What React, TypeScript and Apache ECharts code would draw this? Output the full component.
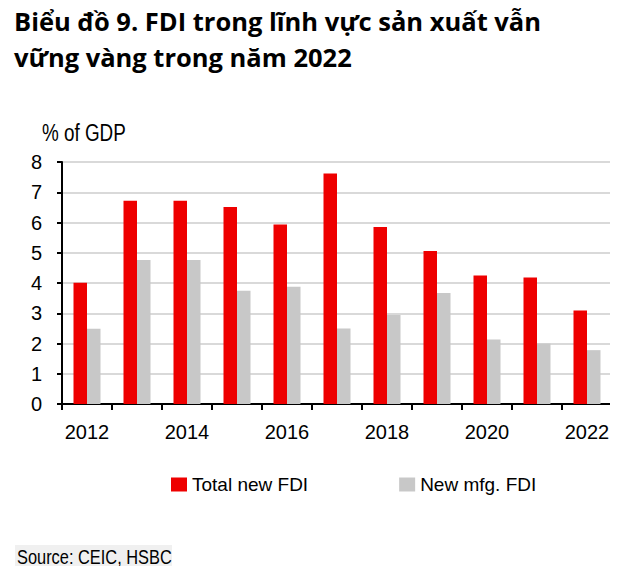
import React, { useEffect, useRef } from "react";
import * as echarts from "echarts";

const years = ["2012", "2013", "2014", "2015", "2016", "2017", "2018", "2019", "2020", "2021", "2022"];
const totalNewFDI = [4.01, 6.72, 6.72, 6.51, 5.93, 7.62, 5.85, 5.06, 4.25, 4.18, 3.09];
const newMfgFDI = [2.49, 4.76, 4.76, 3.74, 3.88, 2.5, 2.94, 3.67, 2.13, 2.0, 1.78];
const yTicks = [0, 1, 2, 3, 4, 5, 6, 7, 8];

const SANS = '"Liberation Sans", Arial, sans-serif';

export default function App() {
  const ref = useRef<HTMLDivElement>(null);
  useEffect(() => {
    if (!ref.current) return;
    const chart = echarts.init(ref.current, undefined, { renderer: "svg" });
    chart.setOption({
      animation: false,
      backgroundColor: "#ffffff",
      graphic: [
        {
          type: "text",
          x: 14,
          y: 3,
          style: {
            text: "Biểu đồ 9. FDI trong lĩnh vực sản xuất vẫn\nvững vàng trong năm 2022",
            font: 'bold 25.5px "Open Sans", sans-serif',
            lineHeight: 36,
            fill: "#000000",
          },
        },
        {
          type: "text",
          x: 42,
          y: 121,
          scaleX: 0.82,
          style: { text: "% of GDP", font: `23px ${SANS}`, fill: "#000000" },
        },
        {
          type: "rect",
          shape: { x: 15, y: 545, width: 157, height: 24 },
          style: { fill: "#f0f0f0" },
        },
        {
          type: "text",
          x: 17,
          y: 547,
          scaleX: 0.82,
          style: { text: "Source: CEIC, HSBC", font: `20px ${SANS}`, fill: "#000000" },
        },
      ],
      legend: {
        left: 166,
        top: 470,
        itemWidth: 16,
        itemHeight: 14,
        itemGap: 91,
        icon: "rect",
        textStyle: { fontFamily: SANS, fontSize: 19, color: "#000000" },
        data: ["Total new FDI", "New mfg. FDI"],
      },
      grid: { left: 62, right: 6, top: 162, bottom: 170, containLabel: false },
      xAxis: {
        type: "category",
        data: years,
        boundaryGap: true,
        axisLine: { lineStyle: { color: "#000000", width: 2 } },
        axisTick: { show: true, length: 6, lineStyle: { color: "#000000", width: 2 }, interval: 0 },
        axisLabel: {
          interval: 1,
          fontFamily: SANS,
          fontSize: 20,
          color: "#000000",
          margin: 18,
        },
        splitLine: { show: false },
      },
      yAxis: {
        type: "value",
        min: yTicks[0],
        max: yTicks[yTicks.length - 1],
        interval: 1,
        axisLine: { show: true, lineStyle: { color: "#000000", width: 2 } },
        axisTick: { show: true, length: 5, lineStyle: { color: "#000000", width: 2 } },
        axisLabel: { fontFamily: SANS, fontSize: 20, color: "#000000", margin: 20 },
        splitLine: { show: true, lineStyle: { color: "#d9d9d9", width: 2 } },
      },
      series: [
        {
          name: "Total new FDI",
          type: "bar",
          data: totalNewFDI,
          barWidth: 13.5,
          barGap: "0%",
          itemStyle: { color: "#ee0000" },
        },
        {
          name: "New mfg. FDI",
          type: "bar",
          data: newMfgFDI,
          barWidth: 13.5,
          barGap: "0%",
          itemStyle: { color: "#c8c8c8" },
        },
      ],
    });
    return () => chart.dispose();
  }, []);
  return <div ref={ref} style={{ width: 618, height: 574, margin: -8 }} />;
}
